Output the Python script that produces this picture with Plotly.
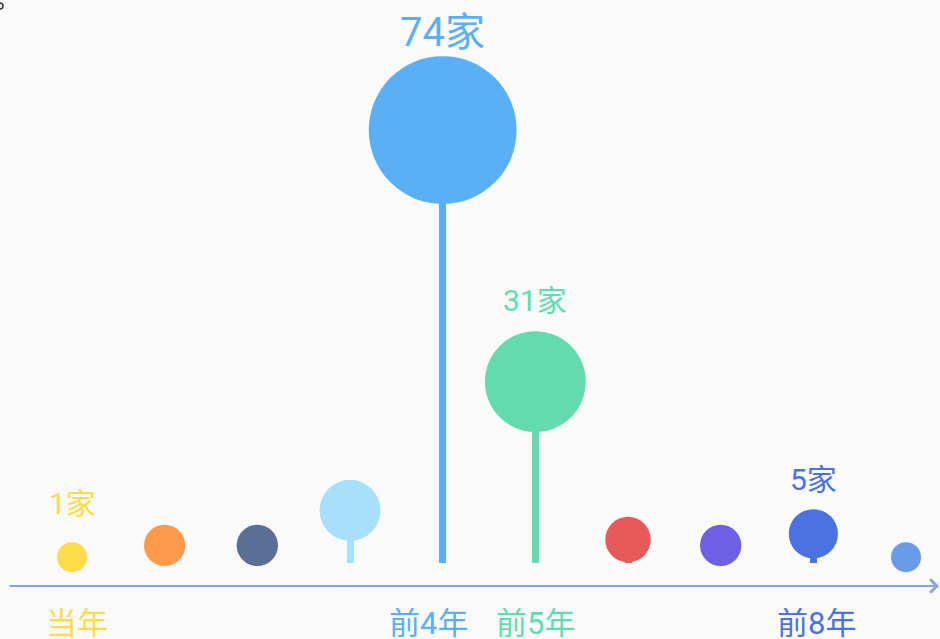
import math
import plotly.graph_objects as go

# ---- data ----
categories = ["当年", "前1年", "前2年", "前3年", "前4年", "前5年", "前6年", "前7年", "前8年", "前9年"]
values = [1, 3, 3, 9, 74, 31, 4, 3, 5, 1]
labeled = ["当年", "前4年", "前5年", "前8年"]
unit = "家"

# ---- styles ----
colors = ["#ffdb4c", "#ff9a4b", "#5a6e96", "#a8dffa", "#5aaff5",
          "#62dcaf", "#e85a5a", "#6e60e3", "#4a72e1", "#6a9be8"]
label_gap = {"当年": 39, "前4年": 24, "前5年": 31, "前8年": 30}
cat_xshift = {"当年": 5, "前4年": -14, "前5年": 0, "前8年": 3}
FONT = "Roboto, 'Noto Sans CJK SC', sans-serif"
BG = "#fafafa"

idx = list(range(len(categories)))
diam = [14.5 + 15.5 * math.sqrt(v) for v in values]

fig = go.Figure()
fig.add_trace(go.Bar(x=idx, y=values, width=0.0755, marker=dict(color=colors, line_width=0),
                     hoverinfo="skip"))
fig.add_trace(go.Scatter(x=idx, y=values, mode="markers",
                         marker=dict(size=diam, color=colors, line_width=0, opacity=1),
                         text=categories, hovertemplate="%{text}: %{y}" + unit + "<extra></extra>"))

for i, (c, v) in enumerate(zip(categories, values)):
    if c not in labeled:
        continue
    fsize = 40 if v == max(values) else 30
    fig.add_annotation(x=i, y=v, xref="x", yref="y", text=f"{v}{unit}", showarrow=False,
                       yanchor="middle", yshift=diam[i] / 2 + label_gap[c],
                       font=dict(family=FONT, size=fsize, color=colors[i]))
    fig.add_annotation(x=i, y=0, xref="x", yref="y", text=c, showarrow=False,
                       yanchor="middle", yshift=-60, xshift=cat_xshift[c],
                       font=dict(family=FONT, size=31, color=colors[i]))

# axis line with arrow
fig.add_annotation(x=1.0, y=-3.93, xref="paper", yref="y", ax=-932, ay=0, axref="pixel", ayref="pixel",
                   text="", showarrow=True, arrowhead=4, arrowsize=1.3, arrowwidth=2,
                   arrowcolor="#88a5dc")

# small clipped mark at top-left
fig.add_shape(type="circle", xref="paper", yref="paper",
              x0=-3 / 940, x1=3 / 940, y0=1 - 9 / 639, y1=1 - 3 / 639,
              line=dict(color="#333333", width=1.5))

fig.update_layout(
    width=940, height=639, margin=dict(l=0, r=0, t=0, b=0),
    paper_bgcolor=BG, plot_bgcolor=BG, showlegend=False,
    xaxis=dict(visible=False, range=[-72 / 92.67, (940 - 72) / 92.67]),
    yaxis=dict(visible=False, range=[(563 - 639) / 5.85, 563 / 5.85]),
    bargap=0,
)

fig.write_html("out.html", config={"displayModeBar": False},
               post_script="document.body.style.margin='0';document.body.style.overflow='hidden';")
